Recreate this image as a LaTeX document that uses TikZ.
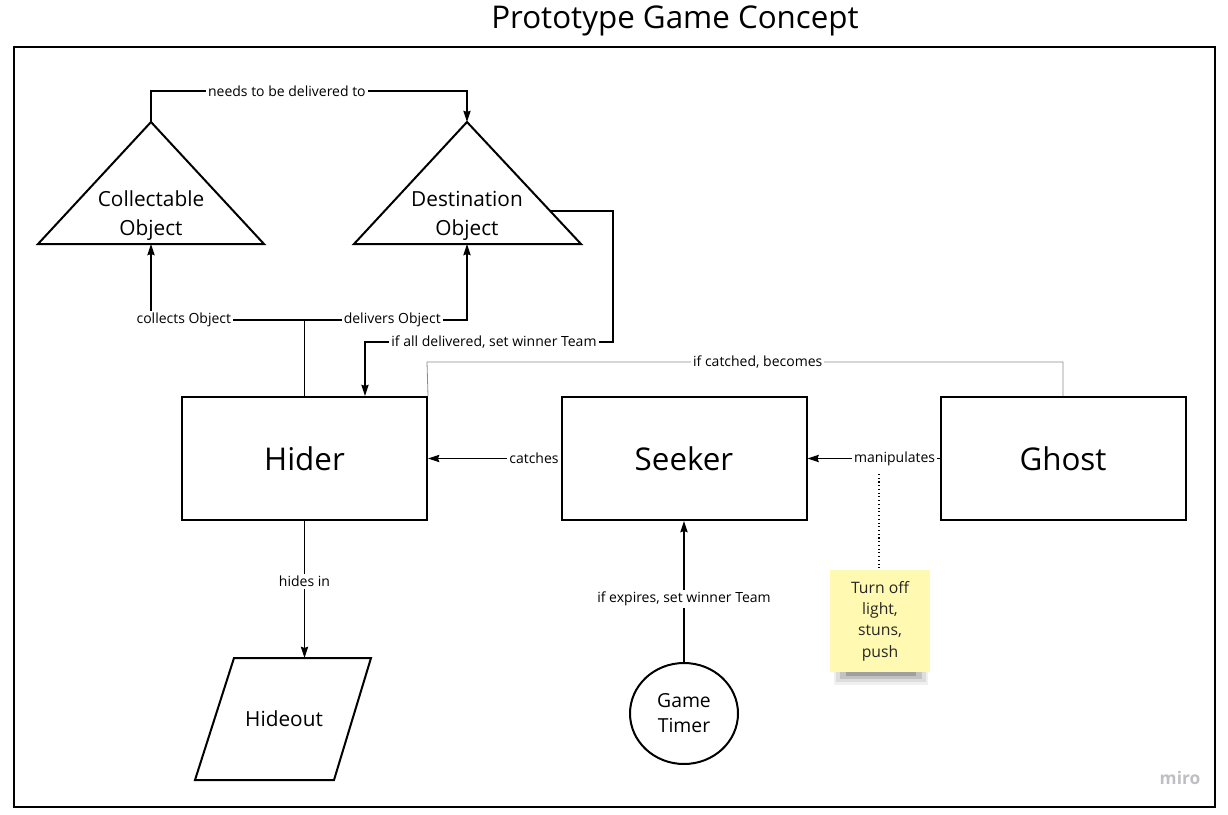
\documentclass[tikz,border=0pt]{standalone}
\usepackage{fontspec}
\setmainfont{Open Sans}
\usetikzlibrary{arrows.meta,shapes.geometric,calc}
\definecolor{notey}{RGB}{255,249,177}
\definecolor{lgray}{RGB}{140,140,140}
\definecolor{mirogray}{RGB}{190,190,196}
\begin{document}
\begin{tikzpicture}[x=0.75pt,y=-0.75pt,
  box/.style={draw, line width=1.5pt, minimum width=183.75pt, minimum height=92.25pt, inner sep=0pt, font=\fontsize{23.5}{28}\selectfont},
  outline/.style={line width=1.5pt, line join=miter},
  conn/.style={line width=0.8pt},
  arr/.style={conn,-{Stealth[length=8.5pt,width=5.5pt,inset=1pt]}},
  lbl/.style={fill=white, inner sep=1.5pt, font=\fontsize{10.5}{12}\selectfont},
  tritext/.style={align=center, font=\fontsize{15.6}{21.75}\selectfont},
]
\useasboundingbox (0,0) rectangle (1228,814);
\node[font=\fontsize{23.5}{28}\selectfont] (title) at (675,21) {Prototype Game Concept};
\node[draw, line width=1.5pt, minimum width=900.75pt, minimum height=570pt, inner sep=0pt] (frame) at (614.5,427) {};

% boxes
\node[box] (hider) at (304.5,458.5) {Hider};
\node[box] (seeker) at (684,458.5) {Seeker};
\node[box] (ghost) at (1063,458.5) {Ghost};

% triangles
\coordinate (coll-apex) at (151,122);
\coordinate (coll-base) at (151,244);
\draw[outline] (coll-apex) -- (264,244) -- (38,244) -- cycle;
\node[tritext] (coll) at (151,215.5) {Collectable\\Object};

\coordinate (dest-apex) at (467,122);
\coordinate (dest-base) at (467,244);
\coordinate (dest-side) at (550,211);
\draw[outline] (dest-apex) -- (581,244) -- (354,244) -- cycle;
\node[tritext] (dest) at (467,215.5) {Destination\\Object};

% hideout
\coordinate (hide-top) at (304.5,658);
\draw[outline] (234,658) -- (371,658) -- (334,780) -- (195,780) -- cycle;
\node[tritext] (hideout) at (284,719) {Hideout};

% timer
\node[draw, ellipse, line width=1.5pt, minimum width=81pt, minimum height=75.75pt, align=center, font=\fontsize{14.5}{18.75}\selectfont] (timer) at (684,713.5) {Game\\Timer};

% sticky note shadow
\fill[black, opacity=0.06] (834,666) rectangle (928,685);
\fill[black, opacity=0.08] (836,668) rectangle (926,682);
\fill[black, opacity=0.12] (840,670) rectangle (922,679);
\fill[black, opacity=0.18] (846,671) rectangle (916,676);
\node[fill=notey, minimum width=75pt, minimum height=76.5pt, align=center, inner sep=0pt, text=black!85, font=\fontsize{11.8}{16}\selectfont] (note) at (880,621) {Turn off\\light,\\stuns,\\push};

% connectors
\draw[arr] (coll-apex) -- (151,91) -- node[lbl, pos=0.43] {needs to be delivered to} (467,91) -- (dest-apex);
\draw[arr] (hider.north) -- (304.5,320) -- node[lbl, pos=0.786] {collects Object} (151,320) -- (coll-base);
\draw[arr] (hider.north) -- (304.5,320) -- node[lbl, pos=0.54] {delivers Object} (467,320) -- (dest-base);
\draw[arr] (dest-side) -- (613,211) -- (613,342) -- node[lbl, pos=0.48] {if all delivered, set winner Team} (365,342) -- ($(hider.north)+(60.5,0)$);
\draw[lgray, line width=0.6pt] (hider.north east) -- (427,362) -- node[lbl, text=black, pos=0.52] {if catched, becomes} (1063,362) -- (ghost.north);
\draw[arr] (seeker.west) -- node[lbl, pos=0.2] {catches} (hider.east);
\draw[arr] (ghost.west) -- node[lbl, pos=0.34] {manipulates} (seeker.east);
\draw[dotted, line width=0.8pt] (879,474) -- (note.north -| 879,0);
\draw[arr] (timer.north) -- node[lbl, pos=0.45] {if expires, set winner Team} (seeker.south);
\draw[arr] (hider.south) -- node[lbl, pos=0.44] {hides in} (hide-top);

\node[text=mirogray, font=\fontsize{13}{15}\selectfont\bfseries] (miro) at (1180,778) {miro};
\end{tikzpicture}
\end{document}
